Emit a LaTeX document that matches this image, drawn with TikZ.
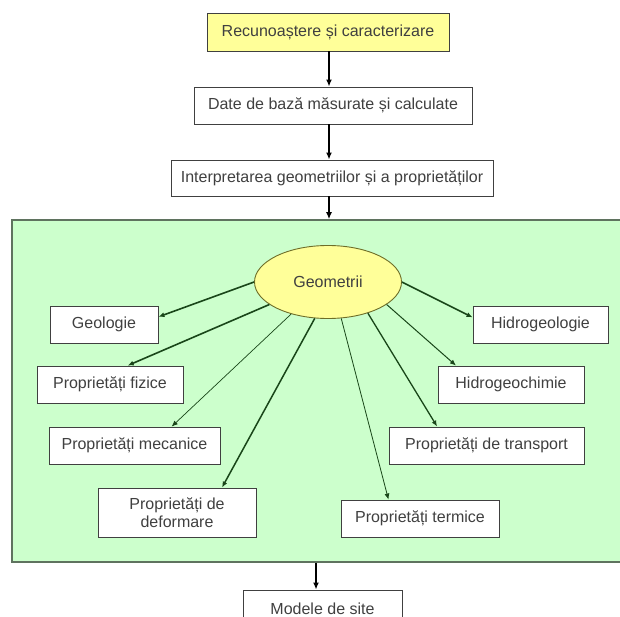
\documentclass[tikz,border=0pt]{standalone}
\usepackage{fontspec}
\setmainfont{Liberation Sans}
\usetikzlibrary{shapes.geometric,arrows.meta}

\definecolor{galben}{RGB}{255,255,153}
\definecolor{verdepal}{RGB}{204,255,204}
\definecolor{verdeinchis}{RGB}{25,70,25}
\definecolor{chenar}{RGB}{64,64,64}

\begin{document}
\begin{tikzpicture}[x=1pt, y=-1pt,
    font=\fontsize{16}{18}\selectfont,
    cutie/.style={rectangle, draw=chenar, fill=white, line width=0.9pt, inner sep=0pt, text=black!75, align=center},
    sageata/.style={-{Latex[length=7pt,width=6pt]}, line width=1.5pt, black},
    ramura/.style={-{Latex[length=6pt,width=5pt]}, verdeinchis}]

    \clip (0,0) rectangle (620,617);
    \fill[white] (0,0) rectangle (620,617);

    % lantul de sus
    \node[cutie, fill=galben, minimum width=242, minimum height=38] (rec) at (328,32) {Recunoaștere și caracterizare};
    \node[cutie, minimum width=278, minimum height=37] (date) at (333,105.5) {Date de bază măsurate și calculate};
    \node[cutie, minimum width=322, minimum height=36] (interp) at (332,178) {Interpretarea geometriilor și a proprietăților};

    % cadrul verde
    \node[rectangle, draw={rgb,255:red,95;green,115;blue,95}, fill=verdepal, line width=1.5pt, minimum width=614, minimum height=342] (cadru) at (319,391) {};

    \node[ellipse, draw={rgb,255:red,110;green,110;blue,40}, fill=galben, line width=0.9pt, minimum width=147, minimum height=73, inner sep=0pt, text=black!75] (geo) at (328,282) {Geometrii};

    \node[cutie, minimum width=108, minimum height=37] (geologie) at (104,324.5) {Geologie};
    \node[cutie, minimum width=146, minimum height=37] (fizice) at (110,384.5) {Proprietăți fizice};
    \node[cutie, minimum width=171, minimum height=37] (mecanice) at (134.5,445.5) {Proprietăți mecanice};
    \node[cutie, minimum width=158, minimum height=49] (deformare) at (177,512.5) {Proprietăți de\\deformare};
    \node[cutie, minimum width=158, minimum height=37] (termice) at (420,518.5) {Proprietăți termice};
    \node[cutie, minimum width=195, minimum height=37] (transport) at (486.5,445.5) {Proprietăți de transport};
    \node[cutie, minimum width=146, minimum height=37] (hidrochim) at (511,384.5) {Hidrogeochimie};
    \node[cutie, minimum width=135, minimum height=37] (hidrogeo) at (540.5,324.5) {Hidrogeologie};

    \node[cutie, minimum width=159, minimum height=37] (modele) at (322.5,608.5) {Modele de site};

    % sagetile principale
    \draw[sageata] (rec.south -| 329,0) -- (date.north -| 329,0);
    \draw[sageata] (date.south -| 329,0) -- (interp.north -| 329,0);
    \draw[sageata] (interp.south -| 329,0) -- (cadru.north -| 329,0);
    \draw[sageata] (cadru.south -| 316,0) -- (modele.north -| 316,0);

    % ramurile din Geometrii
    \draw[ramura, line width=1.6pt] (geo.180) -- (geologie.8);
    \draw[ramura, line width=1.6pt] (geo.201) -- (fizice.47);
    \draw[ramura, line width=0.7pt] (geo.221) -- (mecanice.27);
    \draw[ramura, line width=1.5pt] (geo.250) -- (deformare.29);
    \draw[ramura, line width=0.8pt] (geo.290) -- (termice.149);
    \draw[ramura, line width=1.3pt] (geo.322) -- (transport.159);
    \draw[ramura, line width=1.0pt] (geo.339) -- (hidrochim.161);
    \draw[ramura, line width=1.6pt] (geo.0) -- (hidrogeo.174);

\end{tikzpicture}
\end{document}
